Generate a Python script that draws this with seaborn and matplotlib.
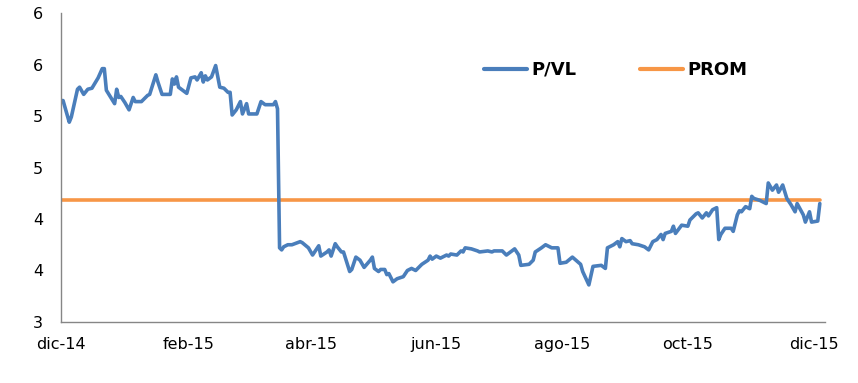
import pandas as pd
import seaborn as sns
import matplotlib.pyplot as plt

# P/VL serie diaria
fechas = [
    "2014-12-01", "2014-12-02", "2014-12-05", "2014-12-06", "2014-12-09", "2014-12-10",
    "2014-12-12", "2014-12-14", "2014-12-16", "2014-12-19", "2014-12-21", "2014-12-22",
    "2014-12-23", "2014-12-27", "2014-12-28", "2014-12-29", "2014-12-30", "2015-01-01",
    "2015-01-03", "2015-01-05", "2015-01-06", "2015-01-09", "2015-01-12", "2015-01-13",
    "2015-01-16", "2015-01-17", "2015-01-19", "2015-01-23", "2015-01-24", "2015-01-25",
    "2015-01-26", "2015-01-27", "2015-01-31", "2015-02-02", "2015-02-04", "2015-02-05",
    "2015-02-07", "2015-02-08", "2015-02-09", "2015-02-10", "2015-02-12", "2015-02-14",
    "2015-02-16", "2015-02-18", "2015-02-20", "2015-02-21", "2015-02-22", "2015-02-24",
    "2015-02-26", "2015-02-27", "2015-03-01", "2015-03-02", "2015-03-06", "2015-03-08",
    "2015-03-10", "2015-03-14", "2015-03-15", "2015-03-16", "2015-03-17", "2015-03-18",
    "2015-03-19", "2015-03-21", "2015-03-23", "2015-03-27", "2015-03-28", "2015-03-31",
    "2015-04-02", "2015-04-05", "2015-04-06", "2015-04-09", "2015-04-10", "2015-04-11",
    "2015-04-13", "2015-04-14", "2015-04-16", "2015-04-17", "2015-04-20", "2015-04-21",
    "2015-04-23", "2015-04-25", "2015-04-27", "2015-04-30", "2015-05-01", "2015-05-02",
    "2015-05-04", "2015-05-05", "2015-05-07", "2015-05-08", "2015-05-09", "2015-05-11",
    "2015-05-13", "2015-05-16", "2015-05-18", "2015-05-20", "2015-05-22", "2015-05-25",
    "2015-05-28", "2015-05-29", "2015-05-30", "2015-06-01", "2015-06-03", "2015-06-06",
    "2015-06-07", "2015-06-08", "2015-06-11", "2015-06-13", "2015-06-14", "2015-06-15",
    "2015-06-18", "2015-06-21", "2015-06-22", "2015-06-26", "2015-06-28", "2015-06-29",
    "2015-07-03", "2015-07-05", "2015-07-09", "2015-07-11", "2015-07-12", "2015-07-16",
    "2015-07-18", "2015-07-19", "2015-07-22", "2015-07-24", "2015-07-27", "2015-07-30",
    "2015-07-31", "2015-08-03", "2015-08-06", "2015-08-10", "2015-08-11", "2015-08-14",
    "2015-08-16", "2015-08-20", "2015-08-22", "2015-08-23", "2015-08-26", "2015-08-28",
    "2015-08-29", "2015-08-30", "2015-09-01", "2015-09-03", "2015-09-04", "2015-09-07",
    "2015-09-10", "2015-09-12", "2015-09-14", "2015-09-16", "2015-09-18", "2015-09-19",
    "2015-09-20", "2015-09-23", "2015-09-24", "2015-09-25", "2015-09-28", "2015-10-01",
    "2015-10-02", "2015-10-05", "2015-10-06", "2015-10-08", "2015-10-10", "2015-10-11",
    "2015-10-13", "2015-10-15", "2015-10-16", "2015-10-17", "2015-10-19", "2015-10-22",
    "2015-10-23", "2015-10-25", "2015-10-26", "2015-10-27", "2015-10-29", "2015-10-31",
    "2015-11-01", "2015-11-02", "2015-11-05", "2015-11-08", "2015-11-09", "2015-11-11",
    "2015-11-13", "2015-11-14", "2015-11-16", "2015-11-18", "2015-11-20", "2015-11-22",
    "2015-11-23", "2015-11-26", "2015-11-27", "2015-11-29", "2015-11-30", "2015-12-03",
    "2015-12-04",
]
p_vl = [
    5.15, 5.15, 4.94, 4.99, 5.26, 5.28,
    5.21, 5.26, 5.27, 5.37, 5.46, 5.46,
    5.25, 5.12, 5.26, 5.18, 5.19, 5.13,
    5.06, 5.18, 5.14, 5.14, 5.20, 5.21,
    5.40, 5.33, 5.21, 5.21, 5.36, 5.31,
    5.38, 5.28, 5.22, 5.37, 5.38, 5.35,
    5.42, 5.33, 5.39, 5.35, 5.38, 5.49,
    5.28, 5.27, 5.23, 5.23, 5.01, 5.06,
    5.14, 5.02, 5.12, 5.02, 5.02, 5.14,
    5.11, 5.11, 5.14, 5.07, 3.72, 3.70,
    3.73, 3.75, 3.75, 3.78, 3.77, 3.72,
    3.65, 3.74, 3.64, 3.68, 3.70, 3.64,
    3.76, 3.73, 3.68, 3.68, 3.49, 3.51,
    3.63, 3.60, 3.53, 3.60, 3.63, 3.52,
    3.49, 3.51, 3.51, 3.46, 3.47, 3.39,
    3.42, 3.44, 3.50, 3.52, 3.50, 3.56,
    3.60, 3.64, 3.61, 3.64, 3.62, 3.65,
    3.64, 3.66, 3.65, 3.69, 3.68, 3.72,
    3.71, 3.69, 3.68, 3.69, 3.68, 3.69,
    3.69, 3.65, 3.71, 3.65, 3.55, 3.56,
    3.60, 3.68, 3.72, 3.75, 3.72, 3.72,
    3.57, 3.58, 3.63, 3.56, 3.49, 3.36,
    3.54, 3.55, 3.52, 3.72, 3.75, 3.78,
    3.73, 3.81, 3.78, 3.79, 3.76, 3.75,
    3.73, 3.70, 3.78, 3.80, 3.85, 3.80,
    3.86, 3.88, 3.93, 3.86, 3.94, 3.93,
    3.99, 4.05, 4.06, 4.01, 4.06, 4.03,
    4.09, 4.11, 3.80, 3.85, 3.91, 3.91,
    3.88, 4.04, 4.08, 4.07, 4.12, 4.10,
    4.22, 4.20, 4.18, 4.15, 4.35, 4.28,
    4.33, 4.26, 4.33, 4.20, 4.14, 4.07,
    4.15, 4.04, 3.97, 4.07, 3.97, 3.98,
    4.15,
]
prom = 4.18

tick_fechas = ["2014-12-01", "2015-02-01", "2015-04-01", "2015-06-01",
               "2015-08-01", "2015-10-01", "2015-12-01"]
tick_labels = ["dic-14", "feb-15", "abr-15", "jun-15", "ago-15", "oct-15", "dic-15"]
y_ticks = [3, 3.5, 4, 4.5, 5, 5.5, 6]
y_labels = ["3", "4", "4", "5", "5", "6", "6"]

df = pd.DataFrame({"fecha": pd.to_datetime(fechas), "P/VL": p_vl})
df["PROM"] = prom
largo = df.melt(id_vars="fecha", var_name="serie", value_name="valor")

sns.set_style("white")
plt.rcParams["font.family"] = ["DejaVu Sans"]

fig = plt.figure(figsize=(8.58, 3.83), dpi=100)
ax = fig.add_axes([0.0711, 0.1593, 0.8904, 0.8067])

colores = {"P/VL": "#4A7EBB", "PROM": "#F79646"}
sns.lineplot(data=largo, x="fecha", y="valor", hue="serie", palette=colores,
             hue_order=["PROM", "P/VL"], linewidth=2.6, ax=ax)
for ln in ax.lines:
    if ln.get_label() == "PROM":
        ln.set_linewidth(3.0)

ax.set_xlim(pd.Timestamp("2014-12-01"), pd.Timestamp("2015-12-06 12:00"))
ax.set_ylim(3, 6)
ax.set_xticks(pd.to_datetime(tick_fechas))
ax.set_xticklabels(tick_labels)
ax.set_yticks(y_ticks)
ax.set_yticklabels(y_labels)
ax.set_xlabel("")
ax.set_ylabel("")

sns.despine(ax=ax)
for s in ["left", "bottom"]:
    ax.spines[s].set_color("#868686")
    ax.spines[s].set_linewidth(1.0)
ax.tick_params(axis="both", direction="out", length=5, width=1, color="#868686",
               labelsize=11.5, labelcolor="#000000")
ax.tick_params(axis="x", pad=6)
ax.tick_params(axis="y", pad=8)

handles, labels = ax.get_legend_handles_labels()
orden = [labels.index("P/VL"), labels.index("PROM")]
leg = ax.legend([handles[i] for i in orden], [labels[i] for i in orden],
                loc="center left", bbox_to_anchor=(0.532, 0.816), ncol=2,
                frameon=False, handlelength=2.4, handletextpad=0.25,
                columnspacing=3.5, prop={"weight": "bold", "size": 13})
for ln in leg.get_lines():
    ln.set_linewidth(3.0)
for t in leg.get_texts():
    t.set_color("#000000")

fig.savefig("out.png", dpi=100)
